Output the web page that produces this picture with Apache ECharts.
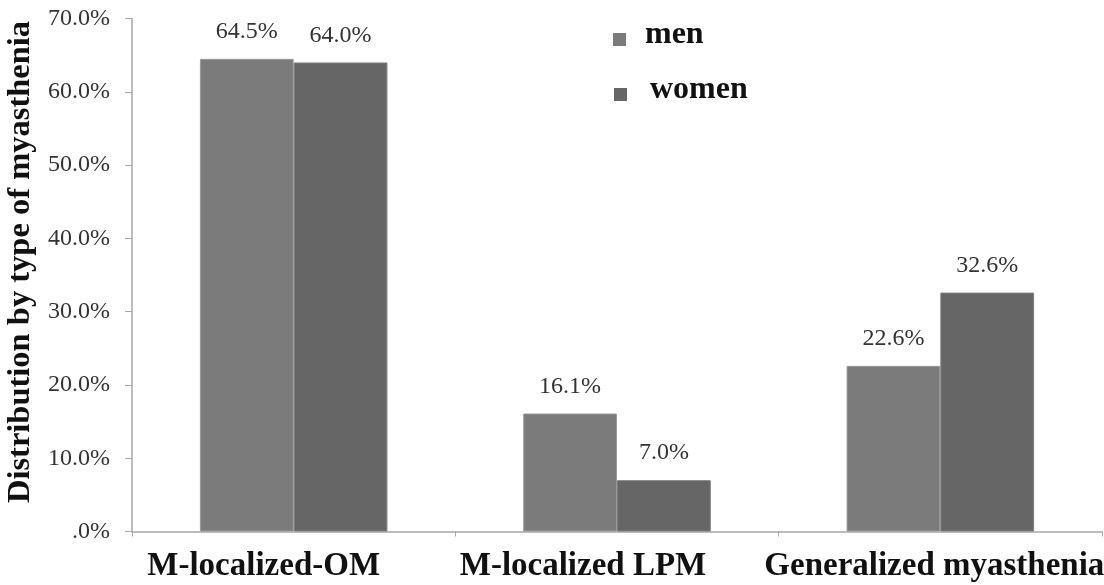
<!DOCTYPE html>
<html>
<head>
<meta charset="utf-8">
<title>Distribution by type of myasthenia</title>
<script src="https://cdn.jsdelivr.net/npm/echarts@6/dist/echarts.min.js"></script>
<style>
  html, body { margin: 0; padding: 0; background: #ffffff; }
  #chart { width: 1104px; height: 585px; }
</style>
</head>
<body>
<div id="chart"></div>
<script>
// Myasthenia type categories
const categories = ['M-localized-OM', 'M-localized LPM', 'Generalized myasthenia'];
// Share of patients per type, in percent
const menValues = [64.5, 16.1, 22.6];
const womenValues = [64.0, 7.0, 32.6];
// Value-axis tick labels, one per 10% step starting at 0
const yTickLabels = ['.0%', '10.0%', '20.0%', '30.0%', '40.0%', '50.0%', '60.0%', '70.0%'];

const serif = '"Liberation Serif", "Times New Roman", serif';
const axisGray = '#a6a6a6';

// Category captions sit slightly left of their slot centres
const captionShift = [60, 68, 12];

// Legend swatch: a square sitting a little below the text's middle line
// (the tiny corner triangle only stretches the icon box upward)
const swatchIcon = 'path://M0,0L0.01,0L0,0.01Z M0,10L13,10L13,23L0,23Z';

const chart = echarts.init(document.getElementById('chart'), null, { renderer: 'canvas' });

const labelStyle = {
  show: true,
  position: 'top',
  distance: 15,
  fontFamily: serif,
  fontSize: 24,
  color: '#333333',
  formatter: p => p.value.toFixed(1) + '%'
};

const legendText = { fontFamily: serif, fontWeight: 'bold', fontSize: 32, color: '#111111' };

chart.setOption({
  backgroundColor: '#ffffff',
  animation: false,
  grid: {
    left: 132, right: 2, top: 18.5, bottom: 53.5,
    containLabel: false, outerBoundsMode: 'none'
  },
  legend: [
    {
      data: ['men'], orient: 'vertical', left: 613, top: 18.5, padding: 0,
      icon: swatchIcon, itemWidth: 13, itemHeight: 23,
      itemStyle: { borderWidth: 0 },
      textStyle: Object.assign({ padding: [0, 0, 0, 14] }, legendText)
    },
    {
      data: ['women'], orient: 'vertical', left: 614, top: 73.5, padding: 0,
      icon: swatchIcon, itemWidth: 13, itemHeight: 23,
      itemStyle: { borderWidth: 0 },
      textStyle: Object.assign({ padding: [0, 0, 0, 18] }, legendText)
    }
  ],
  xAxis: {
    type: 'category',
    data: categories.map((c, i) => ({ value: c, textStyle: { padding: [0, captionShift[i], 0, 0] } })),
    axisLine: { lineStyle: { color: axisGray, width: 1.5 } },
    axisTick: { show: true, length: 5, interval: 0, lineStyle: { color: axisGray } },
    axisLabel: {
      interval: 0, margin: 18, hideOverlap: false,
      fontFamily: serif, fontWeight: 'bold', fontSize: 33, color: '#111111'
    }
  },
  yAxis: {
    type: 'value',
    min: 0, max: 70, interval: 10,
    name: 'Distribution by type of myasthenia',
    nameLocation: 'middle',
    nameGap: 92,
    nameTextStyle: {
      fontFamily: serif, fontWeight: 'bold', fontSize: 32.5, color: '#111111',
      padding: [0, 0, 0, 26]
    },
    axisLine: { show: true, lineStyle: { color: axisGray, width: 1.5 } },
    axisTick: { show: true, length: 7, lineStyle: { color: axisGray } },
    splitLine: { show: false },
    axisLabel: {
      margin: 22,
      fontFamily: serif, fontSize: 24, color: '#333333',
      formatter: v => yTickLabels[Math.round(v / 10)]
    }
  },
  series: [
    {
      name: 'men', type: 'bar', data: menValues,
      barGap: '0%', barCategoryGap: '42%',
      itemStyle: { color: '#7b7b7b', borderColor: '#999999', borderWidth: 1 },
      label: labelStyle
    },
    {
      name: 'women', type: 'bar', data: womenValues,
      barGap: '0%', barCategoryGap: '42%',
      itemStyle: { color: '#666666', borderColor: '#7d7d7d', borderWidth: 1 },
      label: labelStyle
    }
  ]
});
</script>
</body>
</html>
